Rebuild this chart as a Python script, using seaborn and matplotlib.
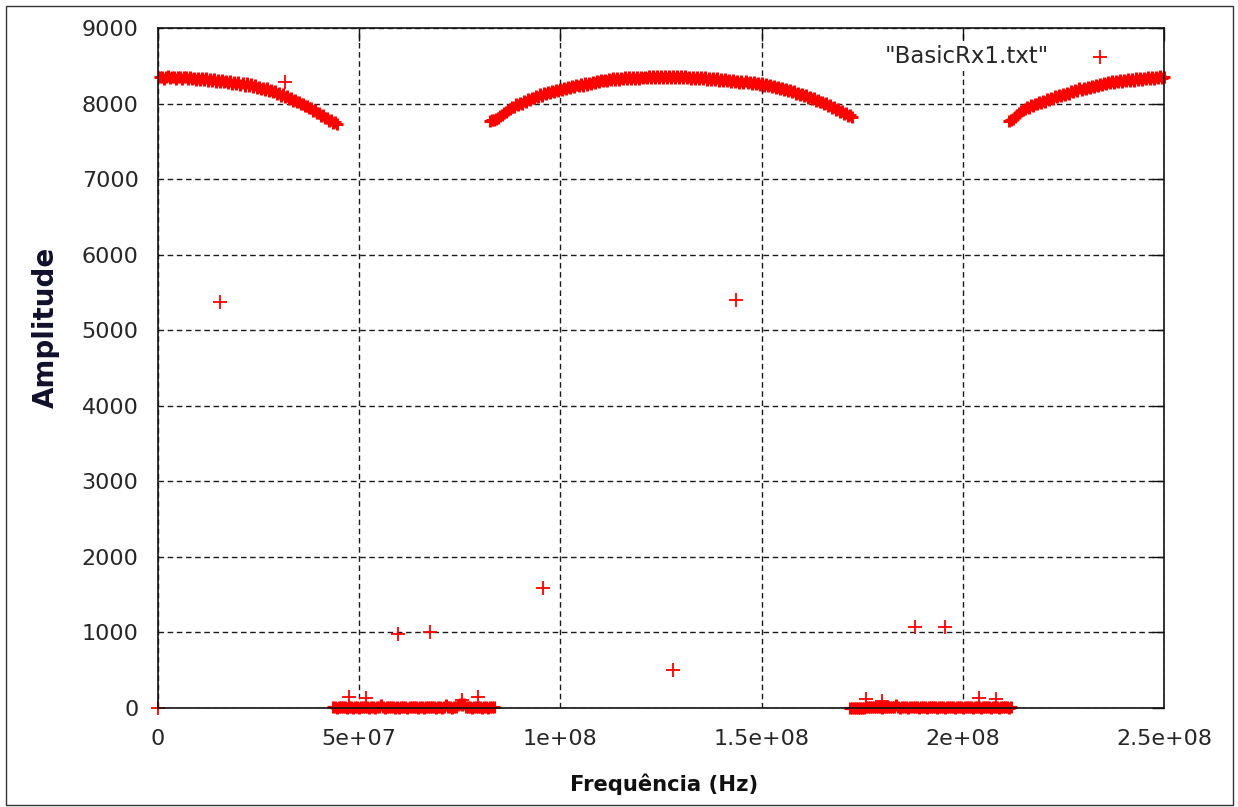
import numpy as np
import pandas as pd
import matplotlib
matplotlib.use("Agg")
import matplotlib.pyplot as plt
import seaborn as sns
from matplotlib.patches import Rectangle

# ---------------- data ----------------
STEP_HZ = 0.5e6

arc1_start_hz = 0.5e6
arc1_amp = [
    8345, 8356, 8330, 8352, 8360, 8334, 8350, 8358, 8328, 8348,
    8355, 8328, 8348, 8352, 8322, 8346, 8320, 8343, 8315, 8338,
    8312, 8336, 8306, 8332, 8302, 8326, 8298, 8324, 8290, 8316,
    8286, 8310, 8280, 8304, 8272, 8298, 8265, 8290, 8255, 8282,
    8250, 8274, 8238, 8266, 8228, 8254, 8218, 8244, 8206, 8225,
    8196, 8212, 8180, 8200, 8164, 8182, 8150, 8162, 8126, 8140,
    8106, 8122, 8084, 8100, 8062, 8074, 8040, 8050, 8014, 8024,
    7988, 8000, 7962, 7972, 7938, 7946, 7906, 7912, 7874, 7878,
    7838, 7846, 7803, 7810, 7770, 7777, 7740, 7752, 7728,
]

arc2_start_hz = 82.5e6
arc2_amp = [
    7768, 7776, 7785, 7798, 7815, 7832, 7850, 7872, 7890, 7915,
    7925, 7958, 7950, 7988, 7976, 8010, 8000, 8034, 8024, 8060,
    8048, 8080, 8068, 8102, 8088, 8120, 8106, 8134, 8120, 8150,
    8135, 8164, 8150, 8178, 8162, 8190, 8176, 8202, 8188, 8215,
    8200, 8230, 8214, 8242, 8226, 8255, 8238, 8266, 8250, 8276,
    8260, 8288, 8272, 8300, 8282, 8310, 8292, 8318, 8300, 8326,
    8308, 8334, 8312, 8338, 8316, 8342, 8320, 8346, 8324, 8349,
    8326, 8352, 8328, 8354, 8330, 8356, 8332, 8358, 8333, 8360,
    8334, 8362, 8336, 8360, 8335, 8363, 8337, 8361, 8336, 8364,
    8338, 8362, 8335, 8361, 8334, 8360, 8333, 8359, 8332, 8357,
    8330, 8355, 8328, 8352, 8325, 8349, 8322, 8345, 8318, 8340,
    8312, 8336, 8310, 8332, 8305, 8326, 8300, 8322, 8295, 8316,
    8289, 8310, 8284, 8305, 8278, 8300, 8273, 8294, 8266, 8287,
    8260, 8280, 8253, 8273, 8245, 8267, 8238, 8256, 8226, 8244,
    8214, 8232, 8202, 8220, 8190, 8210, 8180, 8194, 8164, 8178,
    8148, 8162, 8132, 8146, 8115, 8128, 8096, 8110, 8078, 8090,
    8058, 8070, 8036, 8048, 8014, 8025, 7992, 8002, 7970, 7978,
    7946, 7955, 7920, 7928, 7892, 7900, 7864, 7872, 7836, 7842,
    7818,
]

arc3_start_hz = 211.5e6
arc3_amp = [
    7772, 7785, 7800, 7825, 7848, 7872, 7898, 7920, 7922, 7955,
    7945, 7976, 7966, 8000, 7988, 8020, 8008, 8040, 8026, 8058,
    8044, 8076, 8062, 8098, 8084, 8114, 8098, 8130, 8114, 8146,
    8130, 8165, 8150, 8184, 8168, 8200, 8182, 8210, 8194, 8222,
    8204, 8234, 8216, 8250, 8232, 8264, 8248, 8278, 8258, 8286,
    8266, 8294, 8272, 8300, 8280, 8308, 8286, 8314, 8292, 8320,
    8298, 8326, 8304, 8332, 8310, 8338, 8314, 8342, 8320, 8348,
    8324, 8352, 8328, 8356, 8332, 8360, 8336, 8352,
]

floor1_start_hz = 43.5e6
floor1_amp = [
    8, 12, 5, 10, 15, 7, 11, 4, 9, 14,
    6, 10, 13, 5, 8, 12, 7, 10, 4, 9,
    11, 6, 14, 8, 42, 10, 5, 12, 7, 9,
    13, 6, 10, 4, 11, 8, 12, 5, 9, 7,
    10, 14, 6, 11, 8, 5, 12, 9, 7, 10,
    13, 6, 8, 11, 5, 9, 45, 7, 10, 6,
    14, 8, 40, 55, 38, 50, 12, 7, 10, 6,
    9, 12, 7, 10, 5, 8, 11, 6, 9, 12,
    7,
]

floor2_start_hz = 172.0e6
floor2_amp = [
    3, 0, 5, 2, 4, 1, 3, 0, 12, 8,
    10, 14, 7, 11, 9, 13, 6, 10, 8, 12,
    9, 11, 7, 38, 10, 6, 12, 8, 11, 5,
    9, 12, 7, 10, 6, 14, 8, 11, 5, 9,
    12, 7, 10, 6, 13, 8, 11, 5, 9, 12,
    7, 10, 6, 14, 8, 11, 5, 9, 12, 7,
    10, 6, 13, 8, 11, 5, 9, 12, 7, 10,
    6, 14, 8, 11, 5, 9, 12, 7, 10, 6,
    9,
]

outlier_freq_hz = [0.0, 15.4e6, 31.6e6, 47.5e6, 51.6e6, 59.7e6, 67.6e6, 75.5e6,
                   79.6e6, 95.7e6, 128.0e6, 143.6e6, 175.9e6, 180.0e6, 188.0e6,
                   195.7e6, 204.0e6, 208.2e6]
outlier_amp = [0, 5373, 8290, 141, 128, 975, 1000, 106,
               141, 1588, 503, 5400, 115, 97, 1070,
               1070, 128, 115]

x_ticks = [0, 5e7, 1e8, 1.5e8, 2e8, 2.5e8]
x_tick_labels = ["0", "5e+07", "1e+08", "1.5e+08", "2e+08", "2.5e+08"]
y_ticks = [0, 1000, 2000, 3000, 4000, 5000, 6000, 7000, 8000, 9000]
y_tick_labels = [str(v) for v in y_ticks]

series_label = '"BasicRx1.txt"'
x_label = "Frequência (Hz)"
y_label = "Amplitude"


def segment(start, amps):
    freqs = start + STEP_HZ * np.arange(len(amps))
    return pd.DataFrame({"freq": freqs, "amp": amps})


dense = pd.concat([
    segment(arc1_start_hz, arc1_amp),
    segment(floor1_start_hz, floor1_amp),
    segment(arc2_start_hz, arc2_amp),
    segment(floor2_start_hz, floor2_amp),
    segment(arc3_start_hz, arc3_amp),
], ignore_index=True)
sparse = pd.DataFrame({"freq": outlier_freq_hz, "amp": outlier_amp})

# ---------------- styling ----------------
sns.set_style("white")
plt.rcParams["font.family"] = ["DejaVu Sans"]

W, H = 1238, 807
fig = plt.figure(figsize=(W / 100, H / 100), dpi=100)
L, R, T, B = 158, 1164, 28, 708
ax = fig.add_axes([L / W, 1 - B / H, (R - L) / W, (B - T) / H])

RED = "#ff0000"
sns.scatterplot(data=dense, x="freq", y="amp", marker="+", color=RED,
                s=80, linewidth=2.2, ax=ax, clip_on=False, zorder=3,
                legend=False)
sns.scatterplot(data=sparse, x="freq", y="amp", marker="+", color=RED,
                s=88, linewidth=1.3, ax=ax, clip_on=False, zorder=3,
                label=series_label, legend=False)

ax.set_xlim(0, 2.5e8)
ax.set_ylim(0, 9000)
ax.set_xticks(x_ticks)
ax.set_xticklabels(x_tick_labels)
ax.set_yticks(y_ticks)
ax.set_yticklabels(y_tick_labels)
ax.set_xlabel("")
ax.set_ylabel("")

ax.set_axisbelow(True)
ax.grid(True, color="#1a1a1a", linestyle=(0, (4, 2.6)), linewidth=1.0)
for sp in ax.spines.values():
    sp.set_color("#111111")
    sp.set_linewidth(1.2)
    sp.set_zorder(4)

ax.tick_params(direction="in", length=9, width=1.0, color="#111111",
               top=True, right=True, labelsize=16, labelcolor="#262626")
ax.tick_params(axis="x", pad=15)
ax.tick_params(axis="y", pad=14)

leg = ax.legend(loc="center right", bbox_to_anchor=(0.951, 0.9588),
                markerfirst=False, frameon=True, facecolor="white",
                edgecolor="none", framealpha=1, fancybox=False,
                fontsize=16.5, handlelength=1.0, handletextpad=1.7,
                borderpad=0.15, borderaxespad=0, labelcolor="#262626")
leg.set_zorder(5)

fig.text(46 / W, 1 - 327 / H, y_label, rotation=90, ha="center", va="center",
         fontsize=20, fontweight="bold", color="#10102a")
fig.text(664.5 / W, 1 - 784.5 / H, x_label, ha="center", va="center",
         fontsize=15.2, fontweight="bold", color="#111111")

fig.patches.append(Rectangle((6 / W, 1 - 805 / H), (1233 - 6) / W, (805 - 6) / H,
                             transform=fig.transFigure, fill=False,
                             edgecolor="#333333", linewidth=1.0))

fig.savefig("out.png", dpi=100)
